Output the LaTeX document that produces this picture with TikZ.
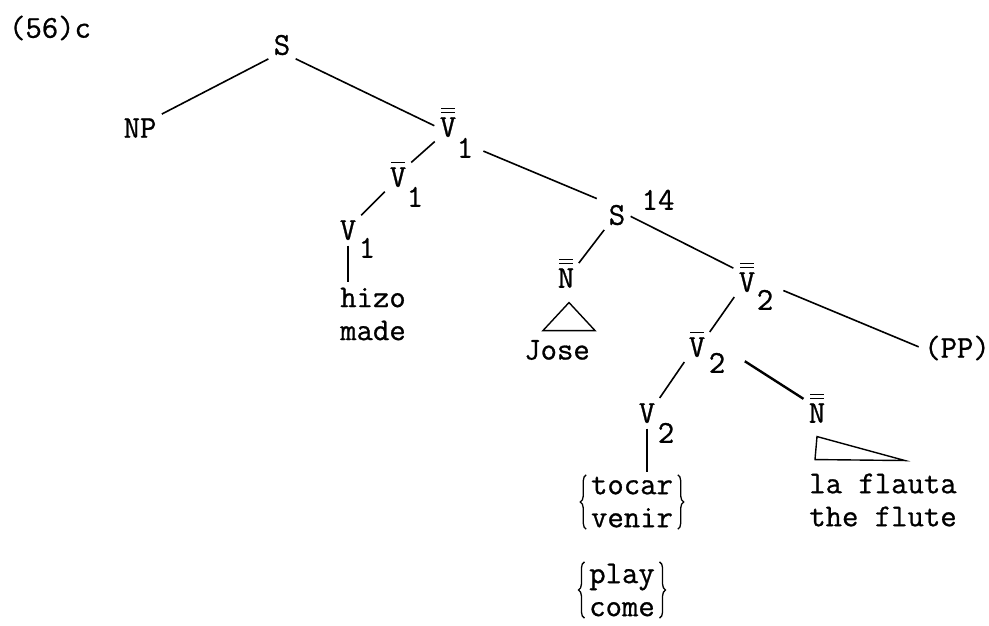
\documentclass[tikz,border=0pt]{standalone}
\usepackage{fontspec}
\setmonofont{Latin Modern Mono}[FakeBold=0.8]
\usetikzlibrary{decorations.pathreplacing}
\newcommand{\sbar}[1]{\leavevmode\rlap{\hspace{1.5pt}\raisebox{23.5pt}{\rule{13.5pt}{1.5pt}}}#1}
\newcommand{\dbar}[1]{\leavevmode\rlap{\hspace{1.5pt}\raisebox{23.5pt}{\rule{13.5pt}{1.5pt}}}%
  \rlap{\hspace{1.5pt}\raisebox{27.5pt}{\rule{13.5pt}{1.5pt}}}#1}
\begin{document}
\begin{tikzpicture}[x=1pt, y=-1pt, line width=1.6pt,
  every node/.append style={font=\ttfamily\fontsize{31.8}{33}\selectfont, inner sep=2pt},
  cat/.style={text height=19.5pt, text depth=0pt},
  branch/.style={shorten <=3pt, shorten >=3pt},
  llave/.style={line width=1.3pt, decorate, decoration={brace, amplitude=6pt}}]
  \useasboundingbox (0,0) rectangle (989,626);
  % numero del ejemplo
  \node (ex) at (50,28) {(56)c};
  % categorias
  \node[cat] (s1) at (282,45) {S};
  \node[cat] (np) at (140,128) {NP};
  \node[cat] (vbbi) at (448,127) {\dbar{V}};
  \node[cat] (vbbi-1) at (465,148) {1};
  \node[cat] (vbi) at (398,177) {\sbar{V}};
  \node[cat] (vbi-1) at (415,197) {1};
  \node[cat] (vi) at (348,230) {V};
  \node[cat] (vi-1) at (367,248) {1};
  \node[align=left] (hizo) at (373,314) {hizo\\made};
  % oracion incrustada
  \node[cat] (s2) at (617,215) {S};
  \node[cat] (s2-num) at (658,200) {14};
  \node[cat] (nbbj) at (566,278) {\dbar{N}};
  \node (jose) at (557,350) {Jose};
  \node[cat] (vbbii) at (747,282) {\dbar{V}};
  \node[cat] (vbbii-2) at (765,300) {2};
  \node (pp) at (957,348) {(PP)};
  \node[cat] (vbii) at (697,347) {\sbar{V}};
  \node[cat] (vbii-2) at (717,363) {2};
  \node[cat] (vii) at (647,413) {V};
  \node[cat] (vii-2) at (666,433) {2};
  \node[align=center, inner xsep=4pt, inner ysep=1pt] (tocar) at (632,502) {tocar\\venir};
  \node[align=center, inner xsep=4pt, inner ysep=1pt] (play) at (622,590) {play\\come};
  \node[cat] (nbbf) at (817,413) {\dbar{N}};
  \node[align=left] (flauta) at (883,500) {la flauta\\the flute};
  % ramas
  \draw[branch] (s1.south west) -- (np.north east);
  \draw[branch] (s1.south east) -- (vbbi.west);
  \draw[branch] (vbbi.south west) -- (vbi.north east);
  \draw[branch, shorten <=8pt, shorten >=10pt] (vbbi-1.east) -- (s2.north west);
  \draw[branch] (vbi.south west) -- (vi.north east);
  \draw[branch] (vi.south) -- (vi.south |- hizo.north);
  \draw[branch] (s2.south west) -- (nbbj.north east);
  \draw[branch] (s2.east) -- (vbbii.north west);
  \draw[branch, shorten <=8pt] (vbbii-2.north east) -- (pp.west);
  \draw[branch] (vbbii.south west) -- (vbii.north east);
  \draw[branch] (vbii.south west) -- (vii.north east);
  \draw[branch, line width=2.4pt, shorten <=20pt] (vbii-2.north east) -- (nbbf.north west);
  \draw[branch] (vii.south) -- (vii.south |- tocar.north);
  % llaves
  \draw[llave] (tocar.south west) -- (tocar.north west);
  \draw[llave] (tocar.north east) -- (tocar.south east);
  \draw[llave] (play.south west) -- (play.north west);
  \draw[llave] (play.north east) -- (play.south east);
  % triangulos
  \draw[line width=1.4pt] ([xshift=3pt, yshift=-12pt]nbbj.south) -- ([xshift=-23pt, yshift=-40pt]nbbj.south)
    -- ([xshift=29pt, yshift=-40pt]nbbj.south) -- cycle;
  \draw[line width=1.4pt] ([yshift=-11pt]nbbf.south) -- ([xshift=-2pt, yshift=-34pt]nbbf.south)
    -- ([xshift=88pt, yshift=-35pt]nbbf.south) -- cycle;
\end{tikzpicture}
\end{document}
